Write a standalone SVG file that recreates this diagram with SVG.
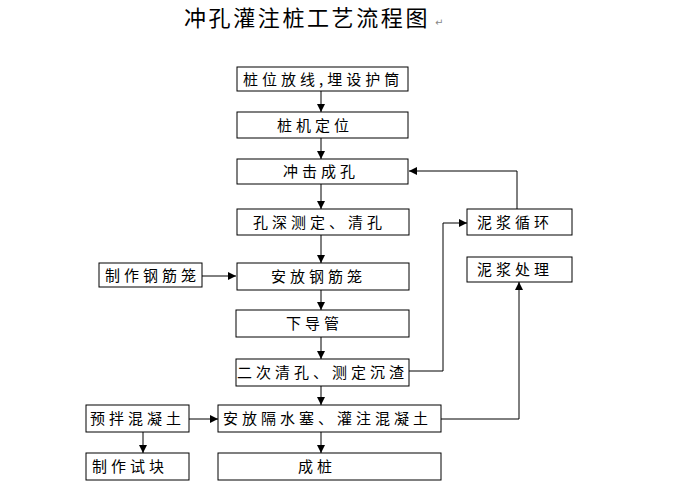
<svg xmlns="http://www.w3.org/2000/svg" width="679" height="486" viewBox="0 0 679 486">
<style>
.box{fill:#fff;stroke:#000;stroke-width:1}
.t{font-family:"Noto Sans CJK SC","Noto Sans",sans-serif;font-size:15px;letter-spacing:4px;fill:#000}
.title{font-family:"Noto Sans CJK SC","Noto Sans",sans-serif;font-size:22px;letter-spacing:2.6px;fill:#000}
.c{fill:none;stroke:#000;stroke-width:1}
</style>
<defs>
<marker id="ah" markerUnits="userSpaceOnUse" markerWidth="9" markerHeight="9" refX="8" refY="4.5" orient="auto">
<path d="M0,0.5 L8,4.5 L0,8.5 Z" fill="#000"/>
</marker>
</defs>
<rect width="679" height="486" fill="#fff"/>
<text class="title" x="184" y="26">冲孔灌注桩工艺流程图</text>
<text x="435" y="26" font-family="DejaVu Sans,sans-serif" font-size="10" fill="#888">↵</text>

<g id="connectors">
<line class="c" x1="321" y1="91" x2="321" y2="112" marker-end="url(#ah)"/>
<line class="c" x1="321" y1="138" x2="321" y2="159" marker-end="url(#ah)"/>
<line class="c" x1="321" y1="184" x2="321" y2="209" marker-end="url(#ah)"/>
<line class="c" x1="321" y1="235" x2="321" y2="263" marker-end="url(#ah)"/>
<line class="c" x1="321" y1="290" x2="321" y2="310" marker-end="url(#ah)"/>
<line class="c" x1="321" y1="337" x2="321" y2="359" marker-end="url(#ah)"/>
<line class="c" x1="321" y1="386" x2="321" y2="405" marker-end="url(#ah)"/>
<line class="c" x1="321" y1="432" x2="321" y2="453" marker-end="url(#ah)"/>
<line class="c" x1="202" y1="276" x2="236" y2="276" marker-end="url(#ah)"/>
<line class="c" x1="189" y1="419" x2="218" y2="419" marker-end="url(#ah)"/>
<line class="c" x1="143" y1="432" x2="143" y2="453" marker-end="url(#ah)"/>
<polyline class="c" points="409,371 443,371 443,223 467,223" marker-end="url(#ah)"/>
<polyline class="c" points="517,209 517,171 409,171" marker-end="url(#ah)"/>
<polyline class="c" points="441,419 519,419 519,282" marker-end="url(#ah)"/>
</g>

<g id="n1"><rect class="box" x="237" y="67" width="171" height="24"/><text class="t" x="243" y="84.5">桩位放线,埋设护筒</text></g>
<g id="n2"><rect class="box" x="237" y="112" width="171" height="26"/><text class="t" x="277" y="130.5">桩机定位</text></g>
<g id="n3"><rect class="box" x="237" y="159" width="171" height="25"/><text class="t" x="283" y="177">冲击成孔</text></g>
<g id="n4"><rect class="box" x="237" y="209" width="172" height="26"/><text class="t" x="253" y="227.5">孔深测定、清孔</text></g>
<g id="n5"><rect class="box" x="237" y="263" width="172" height="27"/><text class="t" x="271" y="282">安放钢筋笼</text></g>
<g id="n6"><rect class="box" x="236" y="310" width="173" height="27"/><text class="t" x="286" y="329">下导管</text></g>
<g id="n7"><rect class="box" x="236" y="359" width="173" height="27"/><text class="t" x="237" y="378">二次清孔、测定沉渣</text></g>
<g id="n8"><rect class="box" x="218" y="405" width="223" height="27"/><text class="t" x="223" y="424">安放隔水塞、灌注混凝土</text></g>
<g id="n9"><rect class="box" x="218" y="453" width="223" height="27"/><text class="t" x="298" y="472">成桩</text></g>
<g id="n10"><rect class="box" x="99" y="263" width="103" height="24"/><text class="t" x="105" y="280.5">制作钢筋笼</text></g>
<g id="n11"><rect class="box" x="86" y="405" width="103" height="27"/><text class="t" x="90" y="424">预拌混凝土</text></g>
<g id="n12"><rect class="box" x="86" y="453" width="103" height="27"/><text class="t" x="92" y="472">制作试块</text></g>
<g id="n13"><rect class="box" x="467" y="209" width="105" height="26"/><text class="t" x="477" y="227.5">泥浆循环</text></g>
<g id="n14"><rect class="box" x="467" y="257" width="105" height="25"/><text class="t" x="477" y="275">泥浆处理</text></g>
</svg>
